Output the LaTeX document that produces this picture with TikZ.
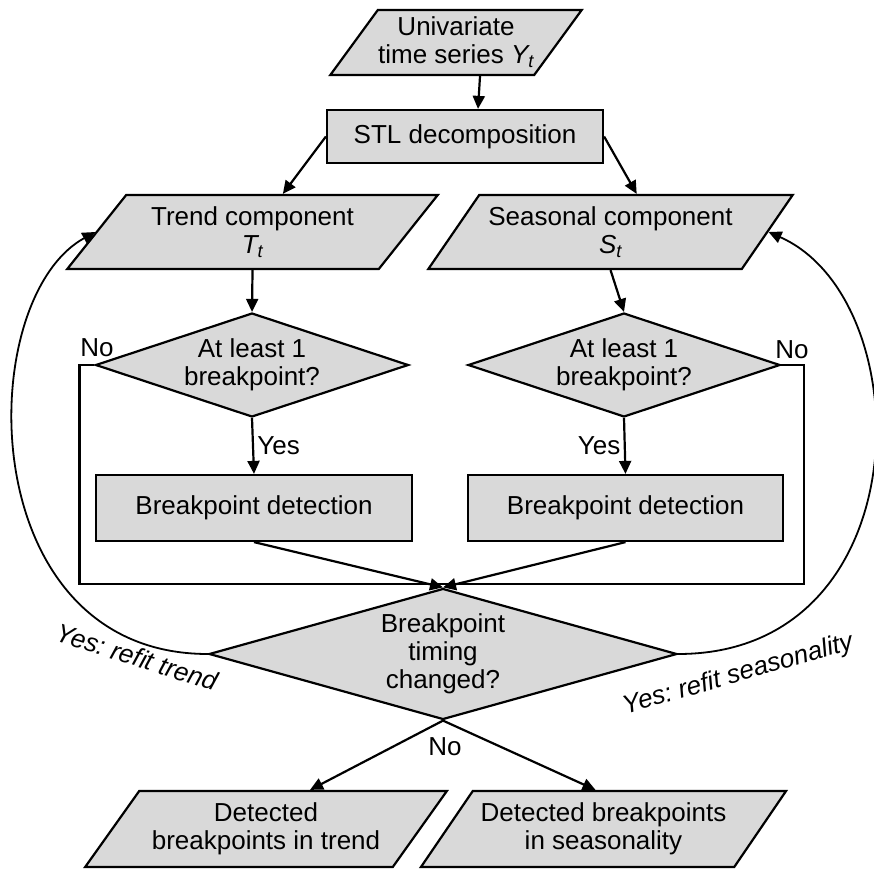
\documentclass[tikz,border=0pt]{standalone}
\usepackage{fontspec}
\setmainfont{Liberation Sans}
\usetikzlibrary{shapes.geometric,arrows.meta,positioning,calc}

\definecolor{boxgray}{RGB}{217,217,217}
\frenchspacing

\begin{document}
\begin{tikzpicture}[
            x=1pt, y=-1pt,
            every node/.style={font=\fontsize{26}{28}\selectfont, align=center},
            io/.style={trapezium, trapezium left angle=47, trapezium right angle=133,
                trapezium stretches=true, draw, line width=2.2pt, fill=boxgray, inner sep=0pt},
            process/.style={rectangle, draw, line width=2.2pt, fill=boxgray, inner sep=0pt},
            decision/.style={diamond, draw, line width=2.2pt, fill=boxgray, inner sep=0pt, aspect=3},
            arr/.style={-{Triangle[length=13pt,width=12pt]}, line width=2.2pt},
            loop/.style={-{Triangle[length=13pt,width=12pt]}, line width=1.8pt},
            plain/.style={line width=2.2pt}
        ]
\useasboundingbox (0,0) rectangle (874,869);

% boxes
            \node[io, minimum width=252pt, minimum height=65pt] (univ) at (456,42.5) {Univariate\\time series \textit{Y\textsubscript{t}}};
            \node[process, minimum width=276pt, minimum height=53pt] (stl) at (465,136.5) {STL decomposition};
            \node[io, minimum width=371pt, minimum height=74pt] (trend) at (252.5,232) {Trend component\\\textit{T\textsubscript{t}}};
            \node[io, minimum width=365pt, minimum height=74pt] (seas) at (610.5,232) {Seasonal component\\\textit{S\textsubscript{t}}};
            \node[decision, minimum width=313pt, minimum height=104pt] (dia1) at (252,365) {At least 1\\breakpoint?};
            \node[decision, minimum width=312pt, minimum height=104pt] (dia2) at (624,365) {At least 1\\breakpoint?};
            \node[process, minimum width=316pt, minimum height=66pt] (det1) at (254,508) {Breakpoint detection};
            \node[process, minimum width=315pt, minimum height=66pt] (det2) at (625.5,508) {Breakpoint detection};
            \node[decision, aspect=3.6, minimum width=468pt, minimum height=131pt] (dia3) at (443,654) {Breakpoint\\timing\\changed?};
            \node[io, minimum width=362pt, minimum height=76pt] (out1) at (266,829) {Detected\\breakpoints in trend};
            \node[io, minimum width=367pt, minimum height=76pt] (out2) at (603.5,829) {Detected breakpoints\\in seasonality};
            \coordinate (join) at (443,584);

% connectors
            \draw[arr] ([xshift=24pt]univ.south) -- ([xshift=13pt]stl.north);
            \draw[arr] (stl.west) -- (trend.top side);
            \draw[arr] (stl.east) -- (seas.top side);
            \draw[arr] (trend.south) -- (dia1.north);
            \draw[arr] (seas.south) -- (dia2.north);
            \draw[arr] (dia1.south) -- node[right] (yes1) {Yes} (det1.north);
            \draw[arr] (dia2.south) -- node[left] (yes2) {Yes} (det2.north);
            \draw[plain] (dia1.west) -- ++(-15,0) |- (join);
            \draw[plain] (dia2.east) -- ++(23,0) |- (join);
            \draw[arr] (det1.south) -- (dia3.north);
            \draw[arr] (det2.south) -- (dia3.north);
            \draw[arr] (dia3.south) -- ([xshift=44pt]out1.north);
            \draw[arr] (dia3.south) -- ([xshift=-8pt]out2.north);
            \draw[loop] (dia3.west) .. controls (-28,654) and (-28,300) .. (trend.left side);
            \draw[loop] (dia3.east) .. controls (922,654) and (922,300) .. (seas.right side);

% labels
            \node (no1) at (97,348) {No};
            \node (no2) at (792,350) {No};
            \node (no3) at (445,747) {No};
            \node[rotate=-17.5, font=\fontsize{26}{28}\selectfont\itshape] (refitT) at (137,657) {Yes: refit trend};
            \node[rotate=16, font=\fontsize{26}{28}\selectfont\itshape] (refitS) at (738,675) {Yes: refit seasonality};

        \end{tikzpicture}
\end{document}
